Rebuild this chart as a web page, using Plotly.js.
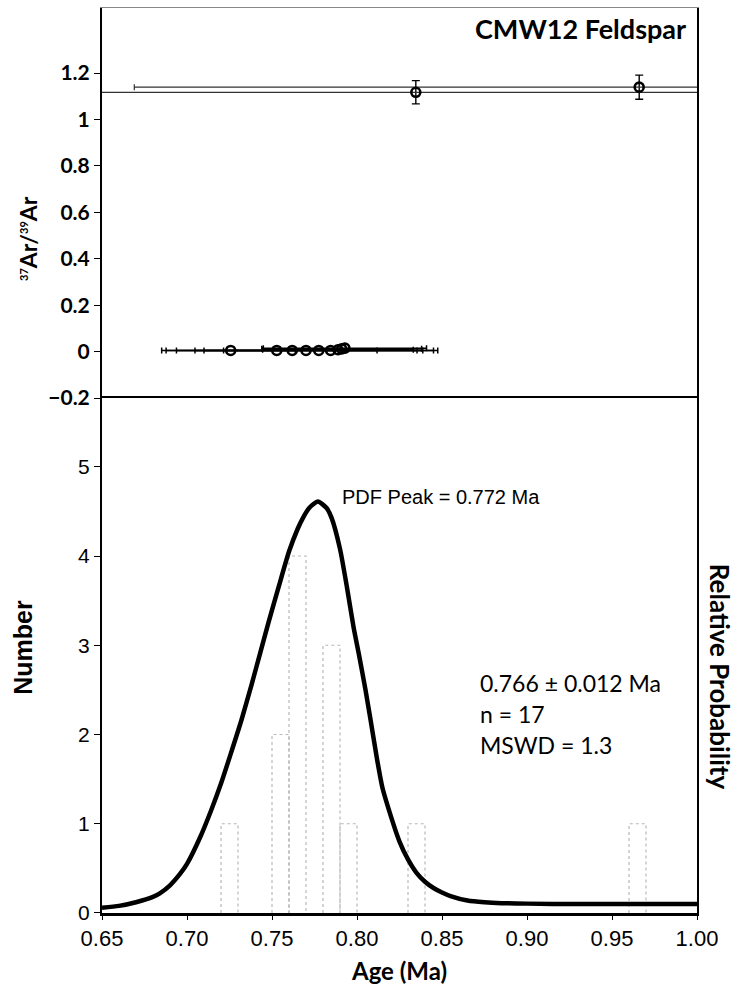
<!DOCTYPE html>
<html>
<head>
<meta charset="utf-8">
<script src="https://cdn.plot.ly/plotly-3.0.1.min.js"></script>
<style>html,body{margin:0;padding:0;background:#fff;}#chart{width:739px;height:989px;}</style>
</head>
<body>
<div id="chart"></div>
<script>
// ---- data ----
const binLeft  = [0.72, 0.75, 0.76, 0.78, 0.79, 0.83, 0.96];
const binCount = [1, 2, 4, 3, 1, 1, 1];
const binWidth = 0.01;

const pdfAge = [0.650,0.660,0.670,0.680,0.684,0.690,0.696,0.700,0.708,0.714,0.720,0.726,0.732,0.738,0.743,0.748,0.754,0.760,0.765,0.768,0.772,0.777,0.782,0.785,0.790,0.794,0.798,0.801,0.805,0.808,0.812,0.815,0.820,0.825,0.830,0.835,0.840,0.845,0.850,0.855,0.865,0.875,0.885,0.900,0.930,0.960,1.000];
const pdfVal = [0.06,0.08,0.12,0.18,0.22,0.31,0.44,0.55,0.86,1.14,1.45,1.80,2.16,2.56,2.91,3.26,3.66,4.05,4.30,4.42,4.54,4.61,4.54,4.43,4.08,3.66,3.20,2.91,2.50,2.16,1.70,1.40,1.08,0.80,0.60,0.45,0.35,0.28,0.23,0.19,0.14,0.12,0.11,0.105,0.10,0.10,0.10];

const lowAge   = [0.7257, 0.7528, 0.7619, 0.7700, 0.7775, 0.7845, 0.7888, 0.7910, 0.7929];
const lowRatio = [0.005, 0.005, 0.005, 0.005, 0.005, 0.005, 0.008, 0.012, 0.015];
const lowAgeErr= [0.038, 0.059, 0.0768, 0.0653, 0.0675, 0.063, 0.0443, 0.047, 0.048];

const highAge    = [0.8346, 0.9660];
const highRatio  = [1.117, 1.139];
const highAgeErr = [0.30, 0.297];
const highRatioErr = [0.050, 0.052];

const xTickVals = [0.65,0.70,0.75,0.80,0.85,0.90,0.95,1.00];
const topTickVals = [-0.2,0,0.2,0.4,0.6,0.8,1,1.2];

// histogram outlines built from the bins (dotted, like the faint original)
const histX = [], histY = [];
binLeft.forEach((l, i) => {
  const r = l + binWidth;
  histX.push(l, l, r, r, null);
  histY.push(0, binCount[i], binCount[i], 0, null);
});

// ---- traces ----
const traces = [
  {type:'scatter', mode:'lines', x: histX, y: histY, xaxis:'x', yaxis:'y',
   line:{color:'#b8b8b8', width:1.2, dash:'dot'}, hoverinfo:'skip', showlegend:false},
  {type:'scatter', mode:'lines', x: pdfAge, y: pdfVal, xaxis:'x', yaxis:'y3',
   line:{color:'#000', width:4.5, shape:'spline', smoothing:0.6}, showlegend:false},
  {type:'scatter', mode:'markers', x: lowAge, y: lowRatio, xaxis:'x2', yaxis:'y2',
   marker:{symbol:'circle-open', size:9, color:'#000', line:{width:2.6, color:'#000'}},
   error_x:{type:'data', array: lowAgeErr, visible:true, color:'#000', thickness:1.5, width:3},
   showlegend:false},
  {type:'scatter', mode:'markers', x: highAge, y: highRatio, xaxis:'x2', yaxis:'y2',
   marker:{symbol:'circle-open', size:9, color:'#000', line:{width:2.6, color:'#000'}},
   error_x:{type:'data', array: highAgeErr, visible:true, color:'#333', thickness:1.2, width:3},
   error_y:{type:'data', array: highRatioErr, visible:true, color:'#000', thickness:1.4, width:4},
   showlegend:false}
];

const layout = {
  width:739, height:989,
  margin:{l:102, r:42, t:8, b:76},
  paper_bgcolor:'#fff', plot_bgcolor:'rgba(0,0,0,0)',
  showlegend:false,
  xaxis:{domain:[0,1], anchor:'y', range:[0.65,1.0], tickvals:xTickVals, tickformat:'.2f',
    showline:true, linecolor:'#000', linewidth:2.5, mirror:true, ticks:'outside', ticklen:4, tickcolor:'#000',
    showgrid:false, zeroline:false,
    tickfont:{family:'Liberation Sans, Arial, sans-serif', size:22, color:'#000'}},
  xaxis2:{domain:[0,1], anchor:'y2', matches:'x', range:[0.65,1.0], side:'top',
    showline:true, linecolor:'#888', linewidth:1, ticks:'', showticklabels:false,
    showgrid:false, zeroline:false},
  yaxis:{domain:[0,0.569], anchor:'x', range:[0,5.77], dtick:1, tick0:0,
    showline:true, linecolor:'#000', linewidth:2, mirror:true, ticks:'outside', ticklen:6, tickcolor:'#000',
    showgrid:false, zeroline:false,
    tickfont:{family:'Liberation Sans, Arial, sans-serif', size:21, color:'#000'}},
  yaxis3:{domain:[0,0.569], anchor:'x', overlaying:'y', side:'right', range:[0,5.77],
    showticklabels:false, ticks:'', showgrid:false, zeroline:false, showline:false},
  yaxis2:{domain:[0.569,1], anchor:'x2', range:[-0.2,1.48], tickvals:topTickVals,
    showline:true, linecolor:'#000', linewidth:2, mirror:true, ticks:'outside', ticklen:6, tickcolor:'#000',
    showgrid:false, zeroline:false,
    tickfont:{family:'Lato, sans-serif', size:21, color:'#000', weight:'bold'}},
  annotations:[
    {text:'<b>CMW12 Feldspar</b>', xref:'paper', yref:'paper', x:0.985, y:0.977, xanchor:'right', yanchor:'middle',
     showarrow:false, font:{family:'Lato, sans-serif', size:27, color:'#000'}},
    {text:'<b><sup><span style="font-size:11px">37</span></sup>Ar/<sup><span style="font-size:11px">39</span></sup>Ar</b>', xref:'paper', yref:'paper', x:-0.124, y:0.745, xanchor:'center', yanchor:'middle',
     textangle:-90, showarrow:false, font:{family:'Lato, sans-serif', size:23, color:'#000'}},
    {text:'<b>Number</b>', xref:'paper', yref:'paper', x:-0.133, y:0.294, xanchor:'center', yanchor:'middle',
     textangle:-90, showarrow:false, font:{family:'Liberation Sans, Arial, sans-serif', size:25, color:'#000'}},
    {text:'<b>Relative Probability</b>', xref:'paper', yref:'paper', x:1.0387, y:0.261, xanchor:'center', yanchor:'middle',
     textangle:90, showarrow:false, font:{family:'Lato, sans-serif', size:26, color:'#000'}},
    {text:'<b>Age (Ma)</b>', xref:'paper', yref:'paper', x:0.499, y:-0.063, xanchor:'center', yanchor:'middle',
     showarrow:false, font:{family:'Lato, sans-serif', size:24, color:'#000'}},
    {text:'PDF Peak = 0.772 Ma', xref:'x', yref:'y', x:0.79, y:4.66, xanchor:'left', yanchor:'middle',
     showarrow:false, font:{family:'Liberation Sans, Arial, sans-serif', size:20, color:'#000'}},
    {text:'0.766 ± 0.012 Ma', xref:'x', yref:'y', x:0.8712, y:2.58, xanchor:'left', yanchor:'middle',
     showarrow:false, font:{family:'Lato, sans-serif', size:23, color:'#000'}},
    {text:'n = 17', xref:'x', yref:'y', x:0.8712, y:2.23, xanchor:'left', yanchor:'middle',
     showarrow:false, font:{family:'Lato, sans-serif', size:23, color:'#000'}},
    {text:'MSWD = 1.3', xref:'x', yref:'y', x:0.8712, y:1.88, xanchor:'left', yanchor:'middle',
     showarrow:false, font:{family:'Lato, sans-serif', size:23, color:'#000'}}
  ]
};

Plotly.newPlot('chart', traces, layout, {displayModeBar:false, staticPlot:true});
</script>
</body>
</html>
